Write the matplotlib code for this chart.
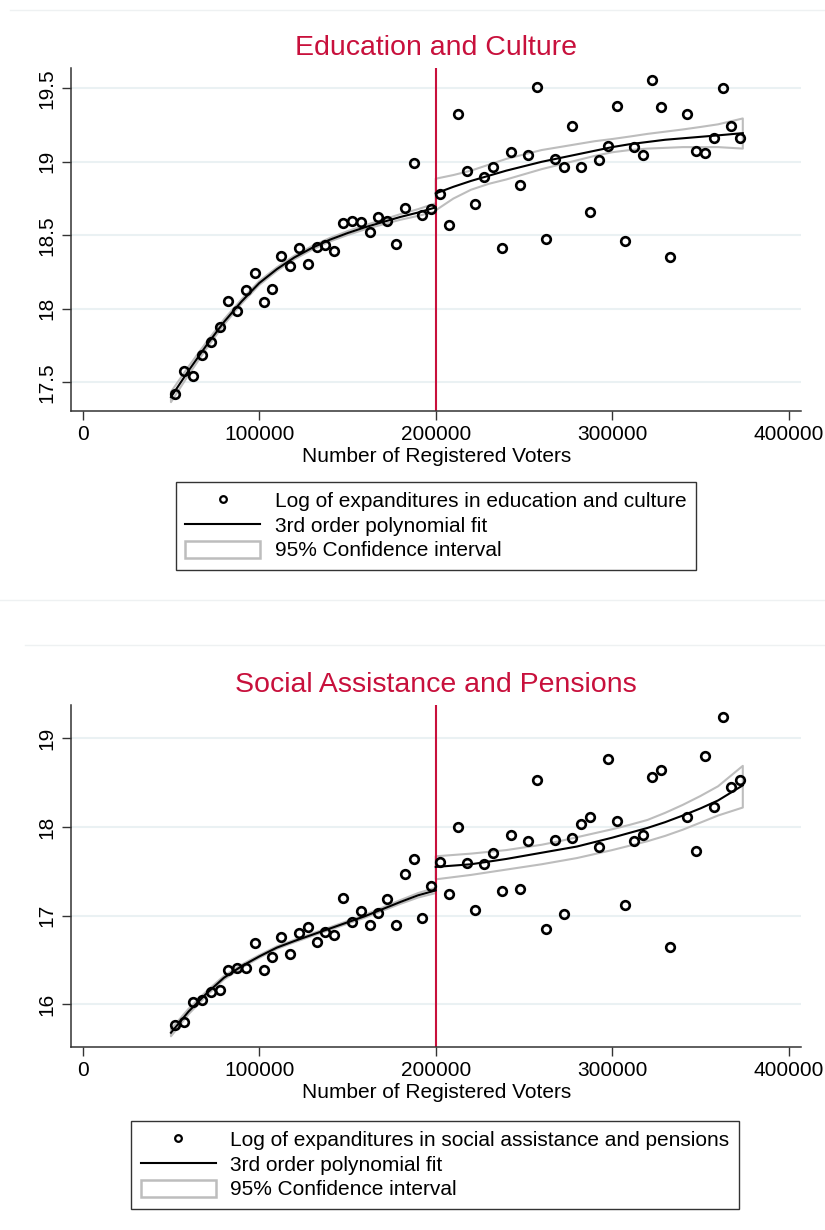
import matplotlib.pyplot as plt
from matplotlib.lines import Line2D
from matplotlib.patches import Patch

plt.rcParams['font.family'] = ['Liberation Sans', 'DejaVu Sans']

# bin centres (number of registered voters), left and right of the 200000 cutoff
voters_left = [52500, 57500, 62500, 67500, 72500, 77500, 82500, 87500, 92500, 97500,
               102500, 107500, 112500, 117500, 122500, 127500, 132500, 137500, 142500, 147500,
               152500, 157500, 162500, 167500, 172500, 177500, 182500, 187500, 192500, 197500]
voters_right = [202500, 207500, 212500, 217500, 222500, 227500, 232500, 237500, 242500, 247500,
                252500, 257500, 262500, 267500, 272500, 277500, 282500, 287500, 292500, 297500,
                302500, 307500, 312500, 317500, 322500, 327500, 332500,
                342500, 347500, 352500, 357500, 362500, 367500, 372500]

# log of expenditures, education and culture
edu_left = [17.42, 17.577, 17.543, 17.684, 17.776, 17.874, 18.055, 17.987, 18.128, 18.241,
            18.046, 18.137, 18.357, 18.293, 18.412, 18.307, 18.420, 18.432, 18.393, 18.582,
            18.599, 18.59, 18.524, 18.627, 18.595, 18.443, 18.688, 18.994, 18.64, 18.681]
edu_right = [18.779, 18.572, 19.323, 18.937, 18.713, 18.894, 18.967, 18.412, 19.067, 18.842,
             19.044, 19.509, 18.475, 19.019, 18.963, 19.246, 18.967, 18.656, 19.012, 19.11,
             19.382, 18.463, 19.099, 19.046, 19.554, 19.371, 18.352,
             19.323, 19.071, 19.058, 19.16, 19.504, 19.246, 19.16]

# log of expenditures, social assistance and pensions
soc_left = [15.768, 15.798, 16.024, 16.05, 16.136, 16.162, 16.388, 16.407, 16.407, 16.689,
            16.388, 16.531, 16.763, 16.568, 16.801, 16.876, 16.7, 16.813, 16.782, 17.2,
            16.933, 17.053, 16.895, 17.027, 17.192, 16.895, 17.47, 17.643, 16.971, 17.335]
soc_right = [17.609, 17.241, 18.003, 17.591, 17.064, 17.583, 17.703, 17.279, 17.910, 17.301,
             17.842, 18.526, 16.850, 17.853, 17.023, 17.879, 18.030, 18.109, 17.775, 18.763,
             18.064, 17.117, 17.842, 17.910, 18.567, 18.639, 16.647,
             18.113, 17.730, 18.8, 18.225, 19.240, 18.448, 18.530]

# polynomial fit and 95% CI
fit_x_left = [50000, 60000, 70000, 80000, 90000, 100000, 110000, 120000,
              130000, 140000, 150000, 160000, 170000, 180000, 190000, 200000]
fit_x_right = [200000, 210000, 220000, 230000, 240000, 250000, 260000, 270000, 280000, 290000,
               300000, 310000, 320000, 330000, 340000, 350000, 360000, 374000]

edu_fit_left = [17.40, 17.58, 17.75, 17.91, 18.05, 18.175, 18.27, 18.35,
                18.415, 18.47, 18.515, 18.555, 18.59, 18.625, 18.655, 18.69]
edu_ci_left = [0.035, 0.028, 0.022, 0.018, 0.015, 0.013, 0.012, 0.012,
               0.012, 0.012, 0.013, 0.014, 0.016, 0.019, 0.023, 0.028]
edu_fit_right = [18.785, 18.83, 18.87, 18.905, 18.94, 18.97, 19.00, 19.025, 19.05, 19.075,
                 19.10, 19.12, 19.135, 19.15, 19.16, 19.17, 19.18, 19.195]
edu_hi_right = [18.885, 18.91, 18.94, 18.98, 19.02, 19.05, 19.08, 19.10, 19.12, 19.14,
                19.155, 19.172, 19.19, 19.205, 19.22, 19.237, 19.255, 19.295]
edu_lo_right = [18.67, 18.75, 18.81, 18.85, 18.88, 18.915, 18.95, 18.98, 19.01, 19.04,
                19.065, 19.08, 19.09, 19.095, 19.10, 19.10, 19.10, 19.09]

soc_fit_left = [15.68, 15.92, 16.12, 16.30, 16.43, 16.54, 16.64, 16.715,
                16.785, 16.855, 16.925, 16.995, 17.075, 17.155, 17.23, 17.285]
soc_ci_left = [0.04, 0.03, 0.025, 0.02, 0.017, 0.015, 0.014, 0.014,
               0.014, 0.014, 0.015, 0.016, 0.018, 0.021, 0.025, 0.03]
soc_fit_right = [17.55, 17.565, 17.58, 17.61, 17.64, 17.675, 17.71, 17.745, 17.78, 17.83,
                 17.88, 17.935, 17.99, 18.055, 18.13, 18.21, 18.30, 18.47]
soc_hi_right = [17.67, 17.685, 17.70, 17.72, 17.74, 17.77, 17.80, 17.84, 17.885, 17.93,
                17.975, 18.025, 18.08, 18.16, 18.25, 18.35, 18.46, 18.69]
soc_lo_right = [17.41, 17.435, 17.46, 17.49, 17.52, 17.55, 17.58, 17.615, 17.65, 17.695,
                17.74, 17.79, 17.84, 17.90, 17.97, 18.05, 18.13, 18.22]

RED = '#C8103C'
CI_GRAY = '#BDBDBD'
GRID = '#EAF1F3'
AXC = '#333333'


def draw_panel(ax, y_left, y_right, fit_l, ci_l, fit_r, lo_r, hi_r, ylim, yticks, ylabels):
    lo_l = [f - c for f, c in zip(fit_l, ci_l)]
    hi_l = [f + c for f, c in zip(fit_l, ci_l)]
    ax.fill_between(fit_x_left, lo_l, hi_l, facecolor='none', edgecolor=CI_GRAY, lw=1.5, zorder=2)
    ax.fill_between(fit_x_right, lo_r, hi_r, facecolor='none', edgecolor=CI_GRAY, lw=1.5, zorder=2)
    ax.plot(fit_x_left, fit_l, color='black', lw=1.5, zorder=3)
    ax.plot(fit_x_right, fit_r, color='black', lw=1.5, zorder=3)
    ax.axvline(200000, color=RED, lw=1.5, zorder=2.5)
    ax.plot(voters_left, y_left, ls='none', marker='o', mfc='none', mec='black', ms=6.2, mew=1.9, zorder=4)
    ax.plot(voters_right, y_right, ls='none', marker='o', mfc='none', mec='black', ms=6.2, mew=1.9, zorder=4)

    ax.set_xlim(-6630, 406970)
    ax.set_ylim(*ylim)
    ax.set_xticks([0, 100000, 200000, 300000, 400000])
    ax.set_xticklabels(['0', '100000', '200000', '300000', '400000'])
    ax.set_yticks(yticks)
    ax.set_yticklabels(ylabels, rotation=90, va='center')
    ax.grid(axis='y', color=GRID, lw=1.5)
    ax.set_axisbelow(True)
    for s in ['top', 'right']:
        ax.spines[s].set_visible(False)
    for s in ['left', 'bottom']:
        ax.spines[s].set_color(AXC)
        ax.spines[s].set_linewidth(1.1)
    ax.tick_params(axis='both', direction='out', length=6.5, width=1, color=AXC, labelsize=15)
    ax.tick_params(axis='x', pad=3.6)
    ax.tick_params(axis='y', pad=4)


fig = plt.figure(figsize=(8.25, 12.3), dpi=100)

ax1 = fig.add_axes([0.0861, 0.6661, 0.8848, 0.2786])
draw_panel(ax1, edu_left, edu_right, edu_fit_left, edu_ci_left, edu_fit_right, edu_lo_right, edu_hi_right,
           (17.307, 19.638), [17.5, 18, 18.5, 19, 19.5], ['17.5', '18', '18.5', '19', '19.5'])

ax2 = fig.add_axes([0.0861, 0.1490, 0.8848, 0.2778])
draw_panel(ax2, soc_left, soc_right, soc_fit_left, soc_ci_left, soc_fit_right, soc_lo_right, soc_hi_right,
           (15.522, 19.376), [16, 17, 18, 19], ['16', '17', '18', '19'])

# titles and axis labels
fig.text(436 / 825, 1 - 48 / 1230, 'Education and Culture', color=RED, fontsize=20.5, ha='center', va='center')
fig.text(436 / 825, 1 - 685 / 1230, 'Social Assistance and Pensions', color=RED, fontsize=20.5, ha='center', va='center')
fig.text(437 / 825, 1 - 456 / 1230, 'Number of Registered Voters', fontsize=15, ha='center', va='center')
fig.text(437 / 825, 1 - 1092 / 1230, 'Number of Registered Voters', fontsize=15, ha='center', va='center')

# faint graph-region borders
fig.add_artist(Line2D([10 / 825, 1], [1 - 10 / 1230] * 2, color='#EEF1F2', lw=1))
fig.add_artist(Line2D([0, 1], [1 - 600 / 1230] * 2, color='#EEF1F2', lw=1))
fig.add_artist(Line2D([25 / 825, 1], [1 - 645 / 1230] * 2, color='#EEF1F2', lw=1))


def add_legend(label, center):
    handles = [
        Line2D([], [], ls='none', marker='o', mfc='none', mec='black', ms=4.8, mew=1.6),
        Line2D([], [], color='black', lw=1.5),
        Patch(facecolor='white', edgecolor=CI_GRAY, lw=1.8),
    ]
    labels = [label, '3rd order polynomial fit', '95% Confidence interval']
    leg = fig.legend(handles, labels, loc='center', bbox_to_anchor=center, fontsize=15,
                     frameon=True, fancybox=False, edgecolor=AXC, framealpha=1,
                     handlelength=3.6, handleheight=0.85, handletextpad=0.7,
                     borderpad=0.45, labelspacing=0.25)
    leg.get_frame().set_linewidth(1.0)


add_legend('Log of expanditures in education and culture', (436 / 825, 1 - 526 / 1230))
add_legend('Log of expanditures in social assistance and pensions', (435 / 825, 1 - 1165 / 1230))

plt.savefig('out.png', dpi=100)
